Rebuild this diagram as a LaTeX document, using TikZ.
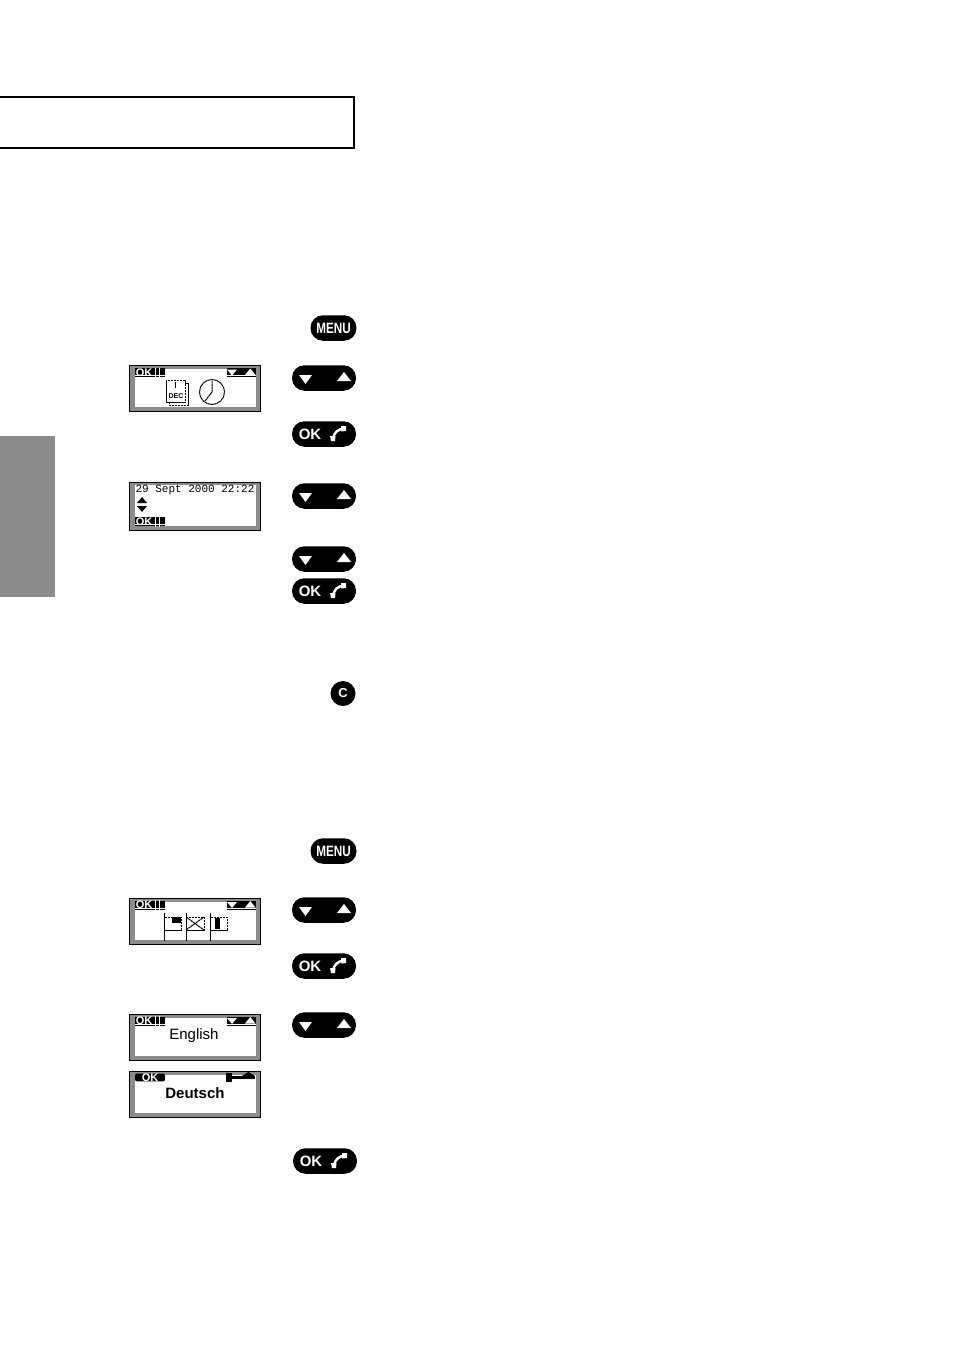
\documentclass[tikz,border=0pt]{standalone}
\usepackage{fontspec}
\setmainfont{Liberation Sans}
\setmonofont{Liberation Mono}

\begin{document}
\begin{tikzpicture}[
			x = 1pt,
			y = -1pt, % same axes as the page
			key/.style = {fill = black, rounded corners = 12.5pt, minimum height = 25.5pt, inner sep = 0pt, text = white, font = \fontsize{15}{15}\selectfont\bfseries},
			menukey/.style = {key, minimum width = 46pt},
			arrowkey/.style = {key, minimum width = 64pt, path picture = {
				\fill[white, sharp corners, shift = {(path picture bounding box.center)}] (-25,-3) -- (-12,-3) -- (-18.5,6) -- cycle;
				\fill[white, sharp corners, shift = {(path picture bounding box.center)}] (13,3) -- (27,3) -- (20,-6) -- cycle;
			}},
			okkey/.style = {key, minimum width = 64pt, path picture = {
				\draw[white, sharp corners, line width = 2.5pt, shift = {(path picture bounding box.center)}] (9,5) .. controls (9.5,-1) and (14,-5) .. (20,-5.5);
				\fill[white, sharp corners, shift = {(path picture bounding box.center)}] (6,2) -- (11.5,2) -- (11,7) -- (7,7) -- cycle;
				\fill[white, sharp corners, shift = {(path picture bounding box.center)}] (17,-8) -- (22,-8) -- (22,-3) -- (17,-2.5) -- cycle;
			}},
			keytext/.style = {inner sep = 0pt, text = white, font = \fontsize{15}{15}\selectfont\bfseries},
			lcd/.style = {draw = black, line width = 1.2pt, fill = black!45, minimum width = 131pt, minimum height = 46.5pt, inner sep = 0pt, path picture = {
				\fill[white, shift = {(path picture bounding box.center)}] (-60,-20) rectangle (61,18.5);
			}},
			lcdtall/.style = {lcd, minimum height = 48.5pt, path picture = {
				\fill[white, shift = {(path picture bounding box.center)}] (-60,-21.5) rectangle (61,19.5);
			}},
			softbar/.style = {fill = black, minimum width = 30pt, minimum height = 9pt, inner sep = 0pt, path picture = {
				\draw[white, line width = .6pt, shift = {(path picture bounding box.center)}] (-15,3) -- (15,3) (5,-5) -- (5,5) (9,-5) -- (9,5);
			}},
			softtext/.style = {inner sep = 0pt, text = white, font = \fontsize{11}{11}\selectfont\bfseries},
			softthin/.style = {fill = black, rounded corners = 2pt, minimum width = 30pt, minimum height = 5pt, inner sep = 0pt, text = white, font = \fontsize{11}{11}\selectfont\bfseries},
			scrollbar/.style = {fill = black, minimum width = 29pt, minimum height = 9pt, inner sep = 0pt, path picture = {
				\fill[white, shift = {(path picture bounding box.center)}] (-15,2.5) rectangle (15,3.2);
				\fill[white, shift = {(path picture bounding box.center)}] (-14.5,-3) -- (-4.5,-3) -- (-9.5,3) -- cycle;
				\fill[white, shift = {(path picture bounding box.center)}] (3.5,2.5) -- (14,2.5) -- (8.8,-4) -- cycle;
			}},
			lcdtext/.style = {inner sep = 0pt, font = \fontsize{15}{15}\selectfont},
			pixel/.style = {line width = 1pt, dash pattern = on 2.5pt off .5pt}
			]
			
			\useasboundingbox (0,0) rectangle (954,1351);
			
			\node[draw = black, line width = 1.6pt, minimum width = 358pt, minimum height = 51pt, inner sep = 0pt] (titlebox) at (175,122.5) {};
			\node[fill = black!45, minimum width = 55pt, minimum height = 161pt, inner sep = 0pt] (tab) at (27.5,516.5) {};
			
			% first column: the keys
			\node[menukey] (menuA) at (333.5,328) {\scalebox{.78}[1]{MENU}};
			\node[arrowkey] (arrowA) at (324,378) {};
			\node[okkey] (okA) at (324,434) {};
			\node[keytext] at ([xshift = -14pt]okA.center) {OK};
			\node[arrowkey] (arrowB) at (324,496) {};
			\node[arrowkey] (arrowC) at (324,559) {};
			\node[okkey] (okB) at (324,591) {};
			\node[keytext] at ([xshift = -14pt]okB.center) {OK};
			\node[circle, fill = black, minimum size = 25pt, inner sep = 0pt, text = white, font = \fontsize{13}{13}\selectfont\bfseries] (clear) at (343,693.5) {C};
			\node[menukey] (menuB) at (333.5,851) {\scalebox{.78}[1]{MENU}};
			\node[arrowkey] (arrowD) at (324,910) {};
			\node[okkey] (okC) at (324,966) {};
			\node[keytext] at ([xshift = -14pt]okC.center) {OK};
			\node[arrowkey] (arrowE) at (324,1025) {};
			\node[okkey] (okD) at (325,1161) {};
			\node[keytext] at ([xshift = -14pt]okD.center) {OK};
			
			% second column: the screens
			\node[lcd] (lcdA) at (195,388.5) {};
			\node[softbar] (softA) at (150,372.5) {};
			\node[softtext] at ([xshift = -6pt]softA.center) {OK};
			\node[scrollbar] (scrollA) at (241.5,372.5) {};
			\node[lcdtext, font = \fontsize{7}{7}\selectfont\bfseries] (dect) at (176,396) {DEC};
			\draw[pixel] (166,380) rectangle (185,402);
			\draw[pixel] (185,383) -- (188,383) -- (188,405) -- (169,405) -- (169,402);
			\draw[pixel] (175,382) -- (175,388);
			\node[circle, draw = black, pixel, minimum size = 25pt, inner sep = 0pt] (clock) at (212,392) {};
			\draw[pixel] (clock.center) -- (212,381) (clock.center) -- (205,401);
			
			\node[lcdtall] (lcdB) at (195,506.5) {};
			\node[inner sep = 0pt, font = \fontsize{11}{11}\ttfamily] (date) at (195,490) {29 Sept 2000 22:22};
			\fill (137,503) -- (147,503) -- (142,497) -- cycle;
			\fill (137,506) -- (147,506) -- (142,512) -- cycle;
			\node[softbar] (softB) at (150,521.5) {};
			\node[softtext] at ([xshift = -6pt]softB.center) {OK};
			
			\node[lcd] (lcdC) at (195,921.5) {};
			\node[softbar] (softC) at (150,905) {};
			\node[softtext] at ([xshift = -6pt]softC.center) {OK};
			\node[scrollbar] (scrollC) at (241.5,905) {};
			\draw[line width = 1pt] (164,913) -- (164,941) (186,913) -- (186,941) (210,913) -- (210,941);
			\draw[pixel] (164,917) rectangle (181,930);
			\fill (172,917) rectangle (181,923);
			\draw[pixel] (186,917) rectangle (204,930);
			\draw[pixel] (186,917) -- (204,930) (186,930) -- (204,917);
			\draw[pixel] (210,917) rectangle (227,930);
			\fill (215,918) rectangle (220,929);
			
			\node[lcd] (lcdD) at (195,1037.5) {};
			\node[softbar] (softD) at (150,1021) {};
			\node[softtext] at ([xshift = -6pt]softD.center) {OK};
			\node[scrollbar] (scrollD) at (241.5,1021) {};
			\node[lcdtext] (english) at (194,1036) {English};
			
			\node[lcd] (lcdE) at (195,1094.5) {};
			\node[softthin] (softE) at (150,1077.5) {OK};
			\fill (226,1075.5) rectangle (255,1079);
			\fill (226,1073) rectangle (232,1082);
			\fill (242,1076) -- (255,1076) -- (248.5,1072) -- cycle;
			\node[lcdtext, font = \fontsize{15}{15}\selectfont\bfseries] (deutsch) at (195,1093) {Deutsch};
		\end{tikzpicture}
\end{document}
